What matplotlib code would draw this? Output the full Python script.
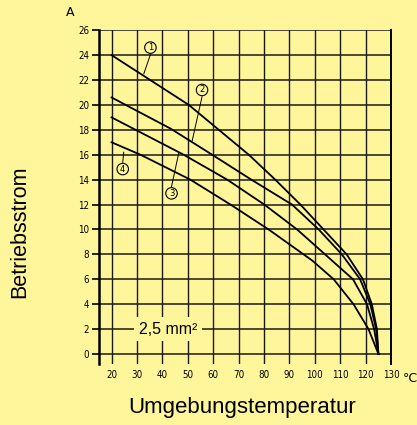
import matplotlib.pyplot as plt

# readings from the chart (temperature in deg C, current in A)
c1_t = [20, 50.4, 62.2, 74, 84.4, 94.3, 103.4, 112.5, 118.9, 122.4, 124.4, 125]
c1_a = [24, 20, 18, 16, 14, 12, 10, 8, 6, 4, 2, 0]
c2_t = [20, 43.2, 59.6, 75, 91, 101.5, 110.6, 117.8, 121.8, 124.1, 125]
c2_a = [20.6, 18.1, 16, 14, 12, 10, 8, 6, 4, 2, 0]
c3_t = [20, 48.4, 65.5, 80.1, 93, 104, 115, 120.5, 123.3, 125]
c3_a = [19, 16, 14, 12, 10, 8, 6, 4, 2, 0]
c4_t = [20, 31.4, 51, 66.8, 81.8, 99, 107.4, 115.2, 121.1, 125]
c4_a = [17, 16, 14, 12, 10, 7.5, 6, 4, 2, 0]

curves = [(c1_t, c1_a), (c2_t, c2_a), (c3_t, c3_a), (c4_t, c4_a)]
names = ['1', '2', '3', '4']
label_pos = [(35.3, 24.6), (55.6, 21.2), (43.6, 12.9), (24.4, 14.85)]
leader_end = [(32.7, 22.5), (51.7, 17.1), (46.4, 16.1), (24.8, 16.2)]

x_ticks = list(range(20, 131, 10))
y_ticks = list(range(0, 27, 2))

bg = '#fff59b'
fig = plt.figure(figsize=(4.17, 4.25), dpi=100, facecolor=bg)
ax = fig.add_axes([0.237, 0.1435, 0.701, 0.7855], facecolor=bg)

ax.set_xlim(15, 130)
ax.set_ylim(-0.8, 26)
ax.set_xticks(x_ticks)
ax.set_yticks(y_ticks)
ax.tick_params(axis='y', direction='out', length=5, width=1.2, pad=2, labelsize=7)
ax.tick_params(axis='x', length=0, pad=4, labelsize=7)
for lab in ax.get_xticklabels() + ax.get_yticklabels():
    lab.set_fontstretch('condensed')

for xv in x_ticks:
    ax.axvline(xv, color='#1a1a1a', lw=1.0, zorder=1)
for yv in y_ticks:
    ax.axhline(yv, color='#1a1a1a', lw=1.1, zorder=1)

ax.spines['bottom'].set_visible(False)
ax.spines['top'].set_visible(False)
ax.spines['left'].set_linewidth(1.8)
ax.spines['right'].set_linewidth(1.4)

for t, a in curves:
    ax.plot(t, a, color='black', lw=1.3, zorder=3)

for n, (lx, ly), (ex, ey) in zip(names, label_pos, leader_end):
    ax.text(lx, ly, n, ha='center', va='center', fontsize=6,
            bbox=dict(boxstyle='circle,pad=0.15', fc='none', ec='black', lw=0.8), zorder=4)
    start = ly - 0.55 if ey < ly else ly + 0.55
    ax.plot([lx, ex], [start, ey], color='black', lw=0.7, zorder=4)

ax.text(42.2, 2, '2,5 mm²', ha='center', va='center', fontsize=11.5,
        family='Liberation Sans',
        bbox=dict(boxstyle='square,pad=0.3', fc=bg, ec='none'), zorder=5)

fig.text(70 / 417, 1 - 13 / 425, 'A', ha='center', va='center', fontsize=9)
fig.text(403 / 417, 1 - 378 / 425, '°C', ha='left', va='center', fontsize=9)

fig.text(20 / 417, 1 - 232 / 425, 'Betriebsstrom', rotation=90, ha='center', va='center',
         fontsize=15.5, family='Liberation Sans')
fig.text(242 / 417, 1 - 407 / 425, 'Umgebungstemperatur', ha='center', va='center',
         fontsize=16, family='Liberation Sans')

fig.savefig('out.png', dpi=100, facecolor=bg)
